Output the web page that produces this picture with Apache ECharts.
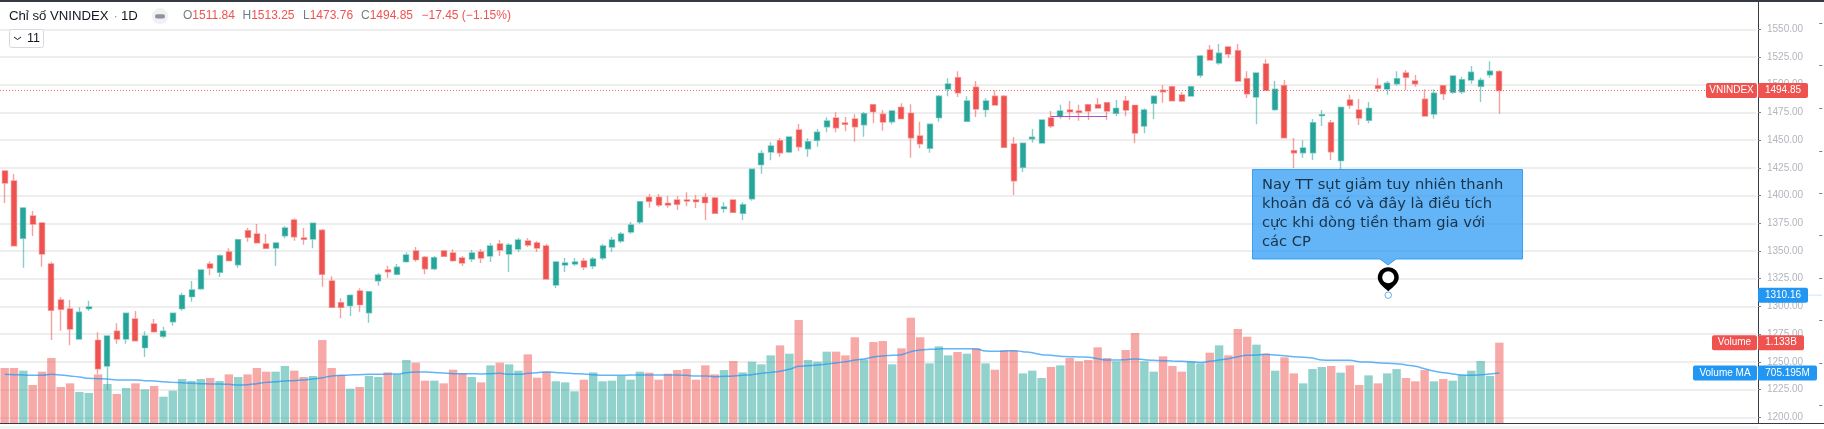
<!DOCTYPE html>
<html>
<head>
<meta charset="utf-8">
<title>VNINDEX</title>
<style>
  html, body { margin: 0; padding: 0; background: #ffffff; overflow: hidden; }
  #chart { width: 1824px; height: 429px; }
</style>
</head>
<body>
<div id="chart"></div>
<script src="https://cdn.jsdelivr.net/npm/echarts@6/dist/echarts.min.js"></script>
<script>
// values, one entry per session
const opens = [
  1422.2,1413.2,1361.5,1381.6,1375.3,1338.3,1305.8,1297.7,1270.6,1298.0,
  1269.4,1246.3,1277.6,1270.6,1288.7,1262.8,1284.2,1273.1,1286.2,1298.0,
  1308.8,1316.0,1338.3,1330.8,1349.1,1337.6,1368.3,1365.3,1356.3,1352.7,
  1363.8,1378.0,1361.7,1360.8,1368.7,1322.9,1303.4,1300.7,1313.9,1294.3,
  1323.2,1332.9,1329.0,1340.4,1350.0,1344.3,1334.0,1350.0,1348.2,1343.7,
  1342.8,1349.1,1345.5,1356.3,1347.3,1351.8,1359.0,1357.2,1354.5,1319.3,
  1337.4,1338.3,1341.0,1336.5,1343.7,1353.6,1359.0,1367.1,1376.2,1398.4,
  1398.4,1393.0,1396.0,1396.0,1396.0,1398.4,1397.8,1388.2,1396.0,1384.0,
  1397.2,1427.9,1439.3,1449.5,1439.3,1459.2,1442.3,1449.9,1462.1,1470.0,
  1465.5,1469.1,1463.9,1482.0,1473.3,1466.6,1479.6,1474.2,1453.7,1442.6,
  1470.3,1496.1,1506.3,1467.0,1497.7,1477.5,1489.6,1489.6,1446.5,1425.5,
  1451.3,1447.4,1470.0,1471.2,1477.2,1476.3,1482.0,1482.0,1483.8,1474.2,
  1485.3,1481.4,1462.8,1483.2,1495.0,1498.2,1490.7,1489.8,1508.5,1531.3,
  1519.6,1534.0,1530.7,1505.4,1488.9,1518.7,1477.5,1499.1,1440.5,1438.7,
  1438.7,1472.1,1465.7,1431.5,1486.2,1477.2,1467.9,1499.1,1496.1,1500.9,
  1510.6,1503.4,1486.9,1473.6,1499.1,1493.2,1493.7,1504.3,1498.6,1509.0,
  1511.84
];
const closes = [
  1411.3,1354.8,1388.8,1374.4,1347.3,1296.5,1297.4,1279.6,1294.7,1299.5,
  1243.8,1273.3,1270.6,1293.8,1269.1,1273.3,1277.2,1277.6,1293.8,1310.0,
  1314.8,1332.9,1334.7,1345.8,1341.3,1360.2,1362.4,1357.5,1352.4,1357.2,
  1370.8,1362.9,1360.6,1375.0,1329.0,1299.2,1299.2,1310.0,1301.6,1313.3,
  1328.4,1331.3,1335.3,1346.4,1342.2,1334.0,1344.0,1345.2,1341.3,1339.2,
  1348.2,1343.7,1354.5,1350.9,1355.4,1359.9,1355.4,1352.7,1324.7,1340.1,
  1339.2,1340.1,1335.6,1342.8,1354.5,1359.9,1365.3,1373.5,1394.5,1394.8,
  1391.5,1391.5,1392.1,1395.1,1394.5,1393.6,1384.0,1389.7,1384.9,1391.8,
  1423.7,1438.1,1444.7,1438.7,1452.8,1444.1,1448.6,1457.1,1467.3,1461.2,
  1464.3,1462.1,1473.9,1475.7,1466.4,1476.3,1469.4,1452.2,1446.8,1464.3,
  1489.6,1500.7,1492.8,1485.3,1478.1,1485.3,1481.7,1443.6,1413.4,1447.2,
  1452.6,1468.2,1462.8,1476.3,1475.7,1475.1,1476.3,1479.0,1476.3,1478.7,
  1477.2,1456.5,1477.2,1489.6,1493.7,1485.6,1485.3,1498.2,1525.9,1522.3,
  1528.4,1527.7,1503.4,1491.9,1510.6,1495.0,1495.9,1452.2,1438.7,1442.9,
  1465.7,1473.0,1439.6,1479.6,1481.4,1470.0,1478.7,1496.8,1501.3,1505.4,
  1506.7,1500.9,1471.8,1492.3,1491.9,1507.9,1504.5,1511.2,1504.0,1512.1,
  1494.85
];
const lows = [
  1393.3,1354.8,1334.9,1363.5,1335.8,1269.7,1278.1,1264.9,1270.6,1295.9,
  1239.0,1224.6,1266.4,1266.4,1269.1,1254.4,1276.7,1271.3,1282.6,1296.2,
  1304.3,1315.1,1328.1,1326.6,1341.3,1334.9,1358.4,1357.5,1351.8,1336.5,
  1361.5,1359.3,1355.7,1352.4,1317.8,1299.2,1289.3,1291.4,1295.3,1285.3,
  1318.7,1325.9,1328.1,1339.5,1340.4,1329.0,1332.6,1345.2,1340.4,1336.5,
  1340.1,1339.2,1340.1,1345.5,1331.1,1349.1,1353.6,1349.1,1324.7,1316.6,
  1331.1,1336.5,1332.9,1333.8,1341.9,1349.1,1357.2,1365.3,1374.4,1389.1,
  1389.7,1389.1,1387.0,1390.3,1388.8,1378.0,1384.0,1384.5,1384.9,1378.0,
  1395.4,1419.7,1431.8,1435.1,1438.4,1439.9,1435.1,1444.1,1457.1,1457.1,
  1458.0,1448.6,1453.1,1465.2,1458.5,1464.3,1469.4,1434.2,1442.6,1438.7,
  1466.6,1489.6,1488.9,1467.0,1470.9,1470.9,1481.7,1443.6,1400.5,1421.3,
  1447.7,1446.8,1461.0,1469.4,1468.4,1467.5,1468.2,1479.0,1468.2,1471.8,
  1471.5,1447.4,1456.2,1469.1,1483.8,1485.6,1484.4,1489.6,1506.3,1521.7,
  1518.1,1524.4,1503.4,1488.0,1464.3,1495.0,1476.6,1452.2,1424.9,1434.2,
  1432.1,1462.8,1432.1,1423.1,1478.4,1463.7,1465.2,1493.4,1491.0,1499.1,
  1495.2,1498.2,1471.8,1469.4,1486.2,1491.9,1491.9,1500.9,1484.4,1506.3,
  1473.76
];
const highs = [
  1422.2,1419.5,1389.7,1386.1,1376.2,1340.4,1308.2,1305.8,1299.2,1305.2,
  1276.7,1273.3,1284.8,1294.3,1295.9,1277.6,1288.7,1281.7,1293.8,1312.4,
  1322.9,1332.9,1340.7,1347.0,1352.4,1361.1,1370.8,1374.4,1365.3,1357.9,
  1372.6,1379.5,1370.8,1375.0,1369.9,1327.2,1307.3,1310.9,1316.4,1313.9,
  1330.2,1336.7,1338.3,1348.8,1353.6,1345.5,1345.5,1350.9,1351.5,1345.5,
  1350.9,1351.8,1357.2,1359.9,1357.2,1361.7,1361.7,1359.0,1356.3,1341.0,
  1343.7,1343.7,1343.7,1344.6,1356.3,1362.6,1367.1,1376.2,1395.1,1401.4,
  1401.4,1399.6,1399.3,1403.0,1400.5,1402.0,1398.7,1393.9,1396.0,1393.9,
  1424.0,1440.8,1448.1,1451.9,1452.8,1464.6,1451.7,1460.1,1470.6,1475.1,
  1470.9,1473.3,1475.4,1482.3,1477.2,1477.2,1483.2,1482.3,1466.6,1464.3,
  1490.7,1505.8,1512.1,1489.6,1503.4,1487.8,1495.0,1490.7,1452.8,1447.2,
  1460.1,1468.2,1476.3,1482.0,1485.3,1482.0,1482.0,1488.0,1483.8,1486.2,
  1489.8,1481.4,1478.7,1490.1,1499.8,1499.1,1493.4,1499.1,1526.8,1535.8,
  1536.7,1534.9,1536.7,1512.1,1510.6,1522.9,1503.4,1504.3,1451.9,1449.9,
  1469.1,1477.2,1468.2,1479.6,1491.0,1487.1,1484.4,1505.8,1503.4,1512.1,
  1513.3,1508.8,1495.9,1495.9,1499.8,1508.1,1507.2,1516.9,1506.3,1521.1,
  1513.25
];
// volume in millions
const volumes = [
  776,776,738,536,724,917,508,559,437,423,
  686,550,409,494,559,475,522,371,456,620,
  592,620,635,592,686,649,686,776,724,724,
  804,738,649,663,1170,776,677,484,508,663,
  649,714,686,888,851,597,597,559,752,700,
  649,573,813,851,827,738,968,639,724,588,
  573,447,611,714,588,597,663,611,724,710,
  611,696,747,761,611,813,686,747,874,714,
  865,827,954,1095,978,1452,888,865,1006,1006,
  954,1208,898,1142,1156,827,1053,1485,1208,841,
  1081,954,1001,978,1053,841,752,1025,1025,700,
  738,635,790,813,917,870,888,1067,917,870,
  1029,1269,870,724,940,804,724,865,841,992,
  1095,954,1325,1217,1105,978,738,926,700,559,
  761,790,804,710,813,536,672,559,700,761,
  635,588,747,588,620,597,677,738,874,663,
  1133
];
const volumeMA = [
  686,682,677,672,672,686,677,663,649,630,
  625,620,606,606,606,597,592,583,573,569,
  559,555,550,550,545,536,541,555,573,583,
  592,597,606,620,639,663,672,677,682,686,
  686,691,691,710,719,719,714,705,696,696,
  696,691,696,700,686,686,700,710,719,714,
  705,696,691,682,672,672,672,677,677,677,
  677,677,677,672,663,663,653,658,663,672,
  682,700,714,729,757,799,808,818,832,846,
  865,888,902,931,945,954,964,1006,1029,1039,
  1043,1048,1048,1048,1043,1015,1011,1015,1020,1006,
  992,964,954,940,935,931,926,907,888,888,
  893,902,893,884,879,874,870,865,855,870,
  888,907,935,954,959,968,959,949,935,926,
  916,888,884,884,884,865,860,851,841,837,
  818,799,766,733,710,691,677,672,682,691,
  705
];
const priceTicks = [1200,1225,1250,1275,1300,1325,1350,1375,1400,1425,1450,1475,1500,1525,1550];
const scaleMarks = [1211,1249,1287.8,1325.6,1364.4,1402.3,1440.2,1479,1517.8,1555.7];

const sessions = volumes.map((v, i) => "bar " + (i + 1));
const emptyRight = Array.from({ length: 27 }, (_, i) => "gap " + (i + 1));
const categories = sessions.concat(emptyRight);

const lastClose = 1494.85;
const lastVolume = "1.133B";
const lastVolumeValue = 1133;
const lastMA = "705.195M";
const lastMAValue = 705.195;
const notePrice = 1310.16;
const noteBar = 148;
const noteLines = [
  "Nay TT sụt giảm tuy nhiên thanh",
  "khoản đã có và đây là điều tích",
  "cực khi dòng tiền tham gia với",
  "các CP",
];
const rangeLine = { from: 112, to: 118, price: 1471.5 };
const legendItems = [
  ["O", "1511.84", 183],
  ["H", "1513.25", 242.5],
  ["L", "1473.76", 303],
  ["C", "1494.85", 361],
];
const legendChange = "−17.45 (−1.15%)";

const RED = "#ef5350";
const TEAL = "#26a69a";
const BLUE = "#2196f3";
const INK = "#131722";
const FRAME = "#363a45";
const FONT = '"Liberation Sans", Arial, sans-serif';

const chart = echarts.init(document.getElementById("chart"));

chart.setOption({
  animation: false,
  backgroundColor: "#ffffff",
  grid: { left: -2.68, top: 1, width: 1758.93, height: 422 },
  xAxis: {
    type: "category",
    data: categories,
    boundaryGap: true,
    axisLine: { show: false },
    axisTick: { show: false },
    axisLabel: { show: false },
    splitLine: { show: false },
  },
  yAxis: [
    {
      type: "value",
      position: "right",
      offset: 1.75,
      min: 1194.84,
      max: 1575.53,
      axisLine: { show: true, onZero: false, lineStyle: { color: FRAME, width: 1 } },
      axisTick: { show: true, length: 3, customValues: priceTicks, lineStyle: { color: "#787b86" } },
      axisLabel: {
        show: true,
        margin: 9,
        color: "#b2b5be",
        fontSize: 10,
        fontFamily: FONT,
        customValues: priceTicks,
        formatter: (v) => v.toFixed(2),
      },
      splitLine: { show: true, lineStyle: { color: "#e9e9ea", width: 1.5 } },
    },
    {
      type: "value",
      min: 0,
      max: 5952,
      show: false,
    },
    {
      type: "value",
      position: "right",
      offset: 66,
      min: 1194.84,
      max: 1575.53,
      axisLine: { show: false },
      axisTick: { show: true, inside: true, length: 3, customValues: scaleMarks, lineStyle: { color: "#787b86" } },
      axisLabel: { show: false },
      splitLine: { show: false },
    },
  ],
  series: [
    {
      name: "Volume",
      type: "bar",
      yAxisIndex: 1,
      barWidth: 8.4,
      z: 1,
      data: volumes.map((v, i) => ({
        value: v,
        itemStyle: { color: closes[i] < opens[i] ? "rgba(239,83,80,0.5)" : "rgba(38,166,154,0.5)" },
      })),
    },
    {
      name: "VNINDEX",
      type: "candlestick",
      yAxisIndex: 0,
      barWidth: 5.5,
      z: 3,
      itemStyle: {
        color: TEAL,
        color0: RED,
        borderColor: "rgba(38,166,154,0.55)",
        borderColor0: "rgba(239,83,80,0.55)",
        borderWidth: 1.4,
      },
      data: opens.map((o, i) => [o, closes[i], lows[i], highs[i]]),
      markLine: {
        silent: true,
        symbol: "none",
        label: { show: false },
        animation: false,
        data: [
          { yAxis: lastClose, lineStyle: { color: RED, type: [1, 2], width: 1, opacity: 0.85 } },
          [
            { coord: [rangeLine.from, rangeLine.price], lineStyle: { color: "#b14fc5", type: "solid", width: 1.2 } },
            { coord: [rangeLine.to, rangeLine.price] },
          ],
        ],
      },
      markPoint: {
        silent: true,
        animation: false,
        label: { show: false },
        data: [
          {
            coord: [noteBar, notePrice],
            symbol: "path://M12 0C5.4 0 0 5.4 0 12c0 6 6 11 12 16 6-5 12-10 12-16C24 5.4 18.6 0 12 0z",
            symbolSize: [21, 24],
            symbolOffset: [1, -16],
            itemStyle: { color: "#000000" },
          },
          {
            coord: [noteBar, notePrice],
            symbol: "circle",
            symbolSize: 12,
            symbolOffset: [1, -18],
            itemStyle: { color: "#ffffff" },
          },
          {
            coord: [noteBar, notePrice],
            symbol: "circle",
            symbolSize: 6.5,
            symbolOffset: [1, 0],
            itemStyle: { color: "#ffffff", borderColor: "#64aee8", borderWidth: 1 },
          },
        ],
      },
    },
    {
      name: "Volume MA",
      type: "line",
      yAxisIndex: 1,
      data: volumeMA,
      smooth: true,
      showSymbol: false,
      z: 2,
      lineStyle: { color: "rgba(33,150,243,0.7)", width: 1.5 },
    },
  ],
});

// price tags sit on the axes, so their height comes from the scales
const priceY = (v) => chart.convertToPixel({ yAxisIndex: 0 }, v);
const volumeY = (v) => chart.convertToPixel({ yAxisIndex: 1 }, v);

function tag(x, w, y, fill, label) {
  return [
    { type: "rect", z: 20, shape: { x: x, y: y - 7.5, width: w, height: 15, r: 2 }, style: { fill: fill } },
    {
      type: "text",
      z: 21,
      style: {
        x: x + w / 2,
        y: y,
        text: label,
        fill: "#ffffff",
        font: "10px " + FONT,
        align: "center",
        verticalAlign: "middle",
      },
    },
  ];
}

const legendTexts = legendItems.map((item) => ({
  type: "text",
  z: 21,
  style: {
    x: item[2],
    y: 16,
    text: "{k|" + item[0] + "}{v|" + item[1] + "}",
    verticalAlign: "middle",
    rich: {
      k: { fill: "#787b86", font: "12px " + FONT },
      v: { fill: RED, font: "12px " + FONT },
    },
  },
}));

const closeY = priceY(lastClose);
const maY = volumeY(lastMAValue);
const barY = volumeY(lastVolumeValue);
const noteY = priceY(notePrice);

const noteTexts = noteLines.map((line, i) => ({
  type: "text",
  z: 31,
  style: {
    x: 1262,
    y: 185 + i * 19,
    text: line,
    fill: "#1a3348",
    font: '14.7px "DejaVu Sans", sans-serif',
    verticalAlign: "middle",
  },
}));

chart.setOption({
  graphic: [
    { type: "rect", z: 10, shape: { x: 0, y: 0, width: 1824, height: 2 }, style: { fill: FRAME } },
    { type: "rect", z: 10, shape: { x: 0, y: 423, width: 1824, height: 1 }, style: { fill: FRAME } },
    { type: "rect", z: 10, shape: { x: 0, y: 426, width: 1758, height: 3 }, style: { fill: "#f4f4f5" } },
    { type: "text", z: 21, style: { x: 9, y: 16, text: "Chỉ số VNINDEX", fill: INK, font: "13.2px " + FONT, verticalAlign: "middle" } },
    { type: "text", z: 21, style: { x: 113.5, y: 16, text: "·", fill: "#9598a1", font: "13.2px " + FONT, verticalAlign: "middle" } },
    { type: "text", z: 21, style: { x: 121, y: 16, text: "1D", fill: INK, font: "13.2px " + FONT, verticalAlign: "middle" } },
    { type: "circle", z: 20, shape: { cx: 160, cy: 16, r: 8 }, style: { fill: "#f0f1f4" } },
    { type: "rect", z: 21, shape: { x: 155, y: 14.2, width: 10, height: 4.2, r: 2 }, style: { fill: "#8f929b" } },
    ...legendTexts,
    { type: "text", z: 21, style: { x: 421.5, y: 16, text: legendChange, fill: RED, font: "12px " + FONT, verticalAlign: "middle" } },
    { type: "rect", z: 20, shape: { x: 9.5, y: 29.5, width: 34, height: 18, r: 2 }, style: { fill: "#ffffff", stroke: "#d6d8e0", lineWidth: 1 } },
    { type: "polyline", z: 21, shape: { points: [[14, 37], [17.5, 39.5], [21, 37]] }, style: { stroke: INK, lineWidth: 1, fill: "none" } },
    { type: "text", z: 21, style: { x: 27, y: 38.5, text: "11", fill: INK, font: "12.5px " + FONT, verticalAlign: "middle" } },

    ...tag(1706, 51, closeY, RED, "VNINDEX"),
    ...tag(1758, 50, closeY, RED, "1494.85"),
    ...tag(1758, 50, noteY, BLUE, notePrice.toFixed(2)),
    { type: "rect", z: 10, shape: { x: 1808, y: noteY - 0.5, width: 14, height: 1 }, style: { fill: "#cfe6fb" } },
    ...tag(1712, 45, barY, RED, "Volume"),
    ...tag(1758, 46, barY, RED, lastVolume),
    ...tag(1693, 64, maY, BLUE, "Volume MA"),
    ...tag(1758, 59, maY, BLUE, lastMA),

    {
      type: "polygon",
      z: 30,
      shape: { points: [[1252.5, 169.5], [1522.5, 169.5], [1522.5, 259], [1396, 259], [1388, 265], [1380, 259], [1252.5, 259]] },
      style: { fill: "rgba(33,150,243,0.7)", stroke: "rgba(33,150,243,0.85)", lineWidth: 1 },
    },
    ...noteTexts,
  ],
});
</script>
</body>
</html>
